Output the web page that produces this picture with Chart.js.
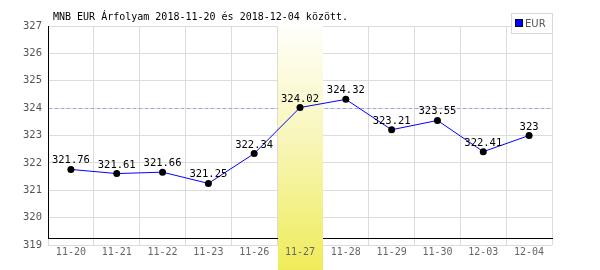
<!DOCTYPE html>
<html>
<head>
<meta charset="utf-8">
<script src="https://cdn.jsdelivr.net/npm/chart.js@4"></script>
<style>
  html, body { margin: 0; padding: 0; background: #fff; }
  #wrap { width: 600px; height: 270px; }
</style>
</head>
<body>
<div id="wrap"><canvas id="chart" width="600" height="270"></canvas></div>
<script>
// adatok
const days = ['11-20', '11-21', '11-22', '11-23', '11-26', '11-27', '11-28', '11-29', '11-30', '12-03', '12-04'];
const eurRates = [321.76, 321.61, 321.66, 321.25, 322.34, 324.02, 324.32, 323.21, 323.55, 322.41, 323];
const yTicks = [319, 320, 321, 322, 323, 324, 325, 326, 327];
const highlightIndex = 5;
const titleText = 'MNB EUR Árfolyam 2018-11-20 és 2018-12-04 között.';

const monoFont = "'DejaVu Sans Mono', monospace";

// sárga sáv, szaggatott vonal, fekete tengelyek
const decorPlugin = {
  id: 'decor',
  beforeDatasetsDraw(chart) {
    const ctx = chart.ctx;
    const area = chart.chartArea;
    const x = chart.scales.x;
    const y = chart.scales.y;

    // fekete tengelyvonalak
    const axisY = Math.round(y.getPixelForValue(319.25));
    const left = Math.round(area.left);
    ctx.save();
    ctx.fillStyle = '#000';
    ctx.fillRect(left, Math.round(area.top), 1, axisY - Math.round(area.top) + 1);
    ctx.fillRect(left, axisY, Math.round(area.right) - left + 1, 1);

    // szaggatott vonal a kiemelt nap árfolyamánál
    const dashY = Math.round(y.getPixelForValue(eurRates[highlightIndex])) + 0.5;
    ctx.strokeStyle = '#a0a0f0';
    ctx.lineWidth = 1;
    ctx.setLineDash([3, 3]);
    ctx.beginPath();
    ctx.moveTo(area.left + 1, dashY);
    ctx.lineTo(area.right, dashY);
    ctx.stroke();
    ctx.setLineDash([]);

    // kiemelt oszlop
    const half = (area.right - area.left) / days.length / 2;
    const cx = x.getPixelForValue(highlightIndex);
    const bx0 = Math.round(cx - half) + 1;
    const bx1 = Math.round(cx + half);
    const grad = ctx.createLinearGradient(0, area.top, 0, chart.height);
    grad.addColorStop(0, '#fffffa');
    grad.addColorStop(0.45, '#f8f6bc');
    grad.addColorStop(1, '#efec5a');
    ctx.fillStyle = grad;
    ctx.fillRect(bx0, area.top, bx1 - bx0, chart.height - area.top);

    // a sáv alatti x felirat újrarajzolása
    ctx.beginPath();
    ctx.rect(bx0, area.top, bx1 - bx0, chart.height - area.top);
    ctx.clip();
    x.drawLabels(area);
    ctx.restore();
  },
  afterDatasetsDraw(chart) {
    const ctx = chart.ctx;
    const meta = chart.getDatasetMeta(0);
    ctx.save();
    ctx.font = '10.5px ' + monoFont;
    ctx.fillStyle = '#000';
    ctx.textAlign = 'center';
    ctx.textBaseline = 'alphabetic';
    meta.data.forEach((pt, i) => {
      ctx.fillText(String(eurRates[i]), pt.x, pt.y - 6);
    });
    ctx.restore();
  },
  afterDraw(chart) {
    const ctx = chart.ctx;
    ctx.save();
    // cím
    ctx.font = '10px ' + monoFont;
    ctx.fillStyle = '#000';
    ctx.textBaseline = 'alphabetic';
    ctx.textAlign = 'left';
    ctx.fillText(titleText, 53, 20);

    // jelmagyarázat
    ctx.fillStyle = '#fff';
    ctx.fillRect(511, 13, 41, 20);
    ctx.strokeStyle = '#d8d8d8';
    ctx.lineWidth = 1;
    ctx.strokeRect(511.5, 13.5, 41, 20);
    ctx.fillStyle = '#0000ff';
    ctx.fillRect(516, 20, 6, 6);
    ctx.strokeStyle = '#000033';
    ctx.strokeRect(515.5, 19.5, 7, 7);
    ctx.fillStyle = '#555';
    ctx.font = "10px 'DejaVu Sans', sans-serif";
    ctx.textBaseline = 'middle';
    ctx.fillText('EUR', 525, 24);
    ctx.restore();
  }
};

new Chart(document.getElementById('chart'), {
  type: 'line',
  data: {
    labels: days,
    datasets: [{
      label: 'EUR',
      data: eurRates,
      borderColor: '#0000ff',
      borderWidth: 1,
      backgroundColor: '#000',
      pointBackgroundColor: '#000',
      pointBorderColor: '#000',
      pointRadius: 3.5,
      pointBorderWidth: 0,
      tension: 0,
      fill: false
    }]
  },
  options: {
    responsive: false,
    animation: false,
    events: [],
    layout: { padding: { top: 26, right: 48, left: 0, bottom: 0 } },
    plugins: {
      legend: { display: false },
      title: { display: false },
      tooltip: { enabled: false }
    },
    scales: {
      x: {
        offset: true,
        grid: { offset: true, color: '#dcdcdc', drawTicks: false },
        border: { display: false },
        ticks: {
          color: '#666',
          font: { family: monoFont, size: 10 },
          padding: 1,
          maxRotation: 0,
          autoSkip: false
        },
        afterFit(scale) { scale.height = 25; }
      },
      y: {
        min: yTicks[0],
        max: yTicks[yTicks.length - 1],
        afterBuildTicks(scale) { scale.ticks = yTicks.map(v => ({ value: v })); },
        grid: { color: '#dcdcdc', drawTicks: false },
        border: { display: false },
        ticks: {
          color: '#555',
          font: { family: monoFont, size: 10.5 },
          padding: 6
        },
        afterFit(scale) { scale.width = 48; }
      }
    }
  },
  plugins: [decorPlugin]
});
</script>
</body>
</html>
